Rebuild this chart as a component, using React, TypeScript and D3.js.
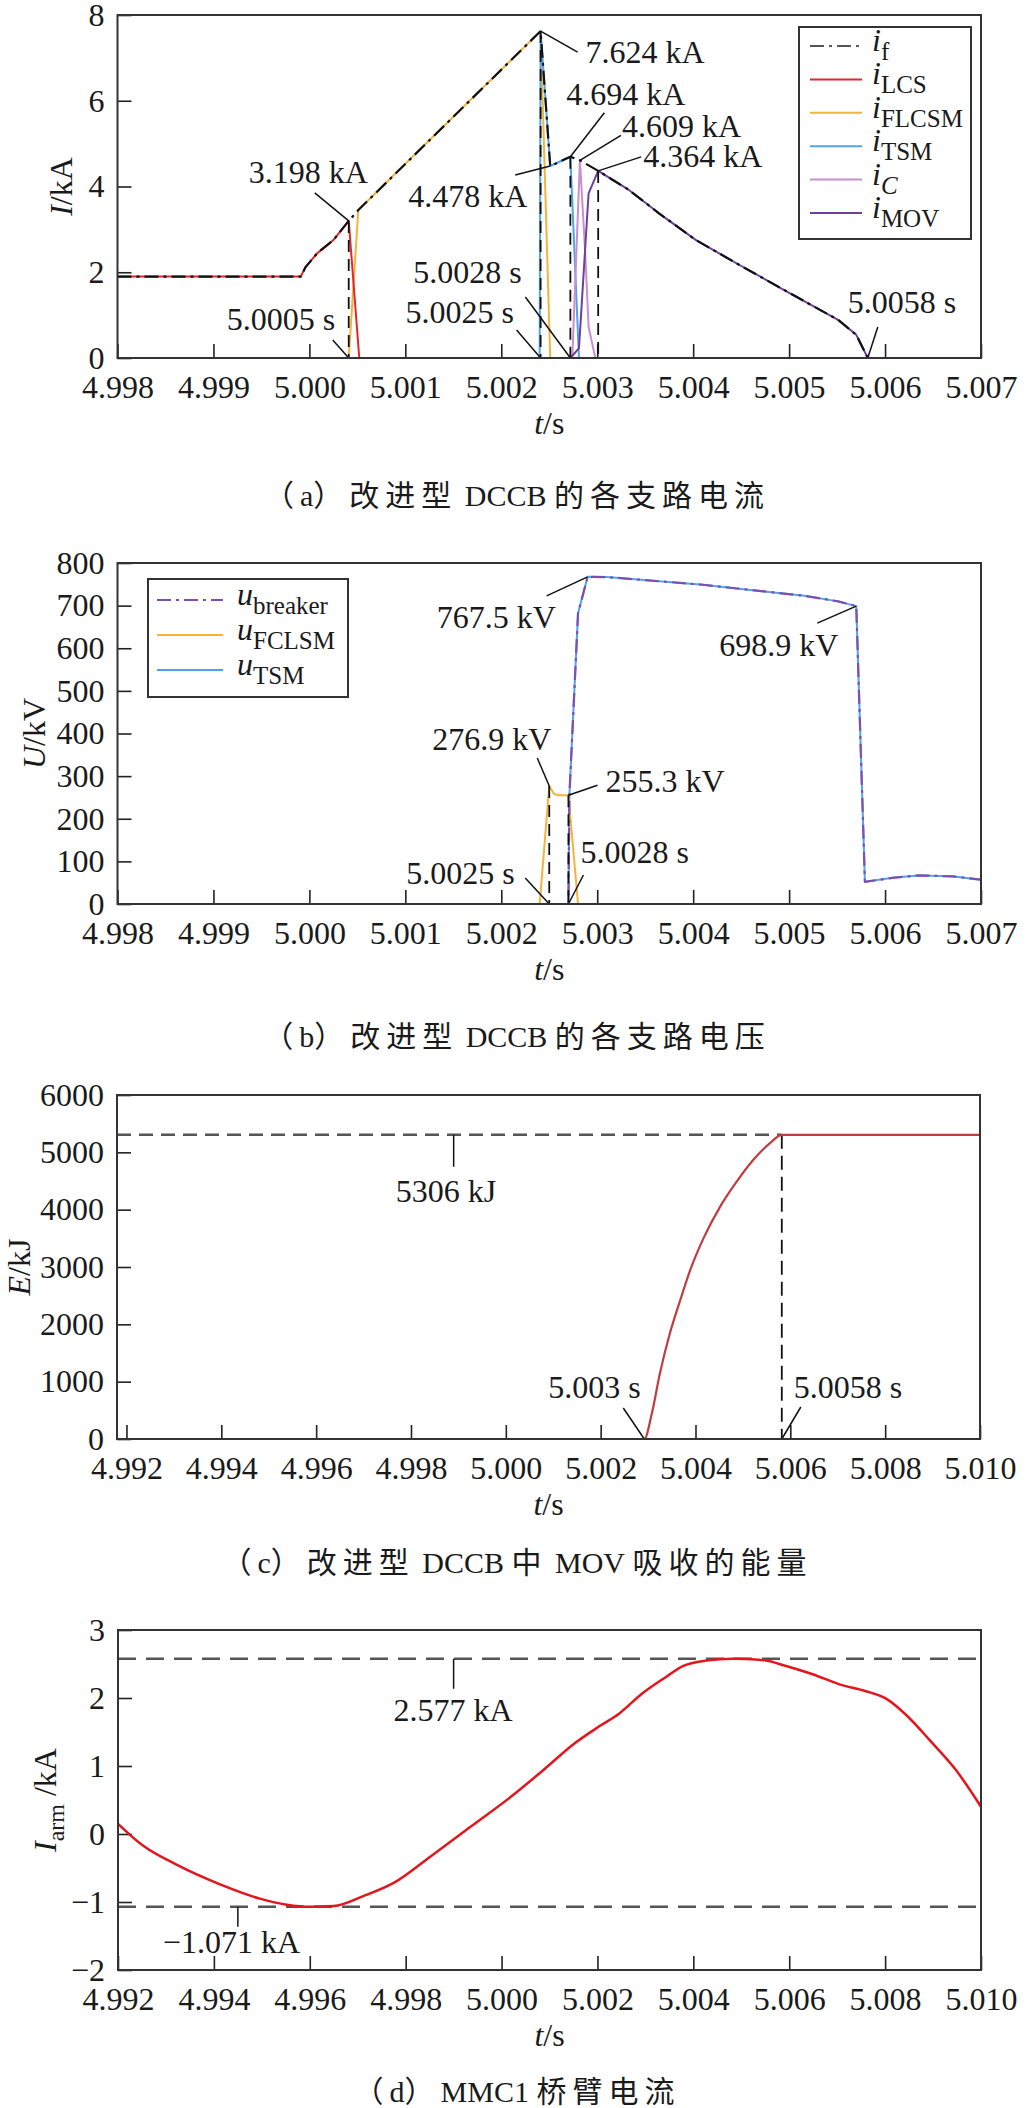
import React, { useEffect, useRef } from "react";
import * as d3 from "d3";

type Pt = [number, number];

// (a) branch currents of the improved DCCB, kA vs s
const iF: Pt[] = [
  [4.998, 1.9], [4.99991, 1.9], [4.99996, 2.12], [5.00008, 2.44], [5.00025, 2.75],
  [5.00041, 3.198], [5.00051, 3.45], [5.00241, 7.624], [5.00251, 4.478], [5.00272, 4.694],
  [5.00282, 4.609], [5.00301, 4.364], [5.00333, 3.92], [5.00364, 3.38], [5.00403, 2.75],
  [5.00445, 2.21], [5.00501, 1.51], [5.00551, 0.89], [5.0057, 0.54], [5.00582, 0], [5.007, 0],
];
const iLCS: Pt[] = [
  [4.998, 1.9], [4.99991, 1.9], [4.99996, 2.12], [5.00008, 2.44], [5.00025, 2.75],
  [5.00041, 3.198], [5.00052, 0], [5.007, 0],
];
const iFLCSM: Pt[] = [
  [4.998, 0], [5.00041, 0], [5.00051, 3.45], [5.00241, 7.624], [5.00251, 0], [5.007, 0],
];
const iTSM: Pt[] = [
  [4.998, 0], [5.0024, 0], [5.00241, 7.624], [5.00251, 4.478], [5.00272, 4.694],
  [5.00281, 0], [5.007, 0],
];
const iC: Pt[] = [
  [4.998, 0], [5.00274, 0], [5.00282, 4.609], [5.002875, 2.45], [5.00291, 0.73],
  [5.00298, 0], [5.007, 0],
];
const iMOV: Pt[] = [
  [4.998, 0], [5.00272, 0], [5.00281, 0.23], [5.00291, 3.84], [5.00301, 4.364],
  [5.00333, 3.92], [5.00364, 3.38], [5.00403, 2.75], [5.00445, 2.21], [5.00501, 1.51],
  [5.00551, 0.89], [5.0057, 0.54], [5.00582, 0], [5.007, 0],
];

// (b) branch voltages, kV
const uBreaker: Pt[] = [
  [4.998, 0], [5.0027, 0], [5.00271, 255.3], [5.0028, 682], [5.0029, 767.5], [5.0031, 767],
  [5.0041, 749], [5.00516, 723], [5.00551, 710], [5.0057, 698.9], [5.00579, 52],
  [5.0061, 62], [5.00635, 67], [5.0067, 65], [5.007, 57],
];
const uTSM: Pt[] = uBreaker.map((d) => [d[0], d[1]] as Pt);
const uFCLSM: Pt[] = [
  [4.998, 0], [5.0024, 0], [5.0025, 276.9], [5.00255, 258], [5.0026, 255.3],
  [5.0027, 255.3], [5.0028, 0], [5.007, 0],
];

// (c) energy absorbed by MOV, kJ
const energy: Pt[] = [
  [4.9918, 0], [5.00292, 0], [5.00308, 448], [5.00325, 1147], [5.00346, 1845],
  [5.00368, 2426], [5.00389, 2949], [5.00417, 3503], [5.00452, 4054], [5.00487, 4490],
  [5.00522, 4869], [5.00557, 5160], [5.00582, 5306], [5.01, 5306],
];

// (d) MMC1 arm current, kA
const armCurrent: Pt[] = [
  [4.992, 0.15], [4.99252, -0.17], [4.99322, -0.45], [4.99413, -0.74], [4.99496, -0.95],
  [4.99552, -1.04], [4.99601, -1.071], [4.9965, -1.06], [4.99713, -0.91], [4.99775, -0.72],
  [4.99852, -0.33], [4.99936, 0.11], [5.0002, 0.55], [5.00092, 0.97], [5.00148, 1.31],
  [5.00203, 1.58], [5.00245, 1.77], [5.00294, 2.07], [5.00343, 2.31], [5.00378, 2.47],
  [5.00427, 2.55], [5.00482, 2.577], [5.0051, 2.575], [5.00552, 2.55], [5.00593, 2.47],
  [5.00649, 2.35], [5.00705, 2.2], [5.0076, 2.1], [5.00802, 1.99], [5.00844, 1.75],
  [5.00893, 1.38], [5.00949, 0.93], [5.01, 0.4],
];

const xTicksAB = [4.998, 4.999, 5.0, 5.001, 5.002, 5.003, 5.004, 5.005, 5.006, 5.007];
const yTicksA = [0, 2, 4, 6, 8];
const yTicksB = [0, 100, 200, 300, 400, 500, 600, 700, 800];
const xTicksCD = [4.992, 4.994, 4.996, 4.998, 5.0, 5.002, 5.004, 5.006, 5.008, 5.01];
const yTicksC = [0, 1000, 2000, 3000, 4000, 5000, 6000];
const yTicksD = [-2, -1, 0, 1, 2, 3];

// reference (dashed) markers
const dropsA: Pt[] = [[5.00041, 3.198], [5.00241, 7.624], [5.00272, 4.694], [5.00301, 4.364]];
const dropsB: Pt[] = [[5.0025, 276.9], [5.0027, 255.3]];
const energyEnd: Pt = [5.00582, 5306];
const armLimits = [2.577, -1.071];

const FONT = '"Liberation Serif", "Times New Roman", Tinos, "DejaVu Serif", "Noto Sans CJK SC", serif';
const INK = "#1a1a1a";

type Note = { t: number; v: number; label: string; tx: number; ty: number; lx: number; ly: number };

const notesA: Note[] = [
  { t: 5.00041, v: 3.198, label: "3.198 kA", tx: -100, ty: -38, lx: -34, ly: -28 },
  { t: 5.00041, v: 0, label: "5.0005 s", tx: -122, ty: -28, lx: -16, ly: -18 },
  { t: 5.00241, v: 7.624, label: "7.624 kA", tx: 45, ty: 32, lx: 37, ly: 21 },
  { t: 5.00251, v: 4.478, label: "4.478 kA", tx: -142, ty: 41, lx: -35, ly: 9 },
  { t: 5.00272, v: 4.694, label: "4.694 kA", tx: -4, ty: -52, lx: 34, ly: -44 },
  { t: 5.00282, v: 4.609, label: "4.609 kA", tx: 42, ty: -23, lx: 41, ly: -25 },
  { t: 5.00301, v: 4.364, label: "4.364 kA", tx: 45, ty: -4, lx: 43, ly: -14 },
  { t: 5.00272, v: 0, label: "5.0028 s", tx: -157, ty: -75, lx: -45, ly: -61 },
  { t: 5.00241, v: 0, label: "5.0025 s", tx: -135, ty: -35, lx: -24, ly: -28 },
  { t: 5.00582, v: 0, label: "5.0058 s", tx: -20, ty: -45, lx: 10, ly: -31 },
];
const notesB: Note[] = [
  { t: 5.0029, v: 767.5, label: "767.5 kV", tx: -151, ty: 51, lx: -41, ly: 19 },
  { t: 5.0057, v: 698.9, label: "698.9 kV", tx: -137, ty: 50, lx: -39, ly: 17 },
  { t: 5.0025, v: 276.9, label: "276.9 kV", tx: -117, ty: -36, lx: -12, ly: -28 },
  { t: 5.0027, v: 255.3, label: "255.3 kV", tx: 37, ty: -3, lx: 29, ly: -10 },
  { t: 5.0027, v: 0, label: "5.0028 s", tx: 12, ty: -41, lx: 15, ly: -29 },
  { t: 5.0025, v: 0, label: "5.0025 s", tx: -143, ty: -20, lx: -24, ly: -26 },
];
const notesC: Note[] = [
  { t: 4.9989, v: 5306, label: "5306 kJ", tx: -58, ty: 67, lx: 0, ly: 32 },
  { t: 5.00292, v: 0, label: "5.003 s", tx: -96, ty: -41, lx: -21, ly: -31 },
  { t: 5.00582, v: 0, label: "5.0058 s", tx: 12, ty: -41, lx: 19, ly: -32 },
];
const notesD: Note[] = [
  { t: 4.999, v: 2.577, label: "2.577 kA", tx: -60, ty: 62, lx: 0, ly: 30 },
  { t: 4.9945, v: -1.071, label: "\u22121.071 kA", tx: -75, ty: 46, lx: 0, ly: 20 },
];

type Sel = d3.Selection<any, unknown, null, undefined>;
type Lin = d3.ScaleLinear<number, number>;

const frame = (svg: Sel, x: Lin, y: Lin, xTicks: number[], yTicks: number[]) => {
  const [x0, x1] = x.range();
  const [y0, y1] = y.range();
  const g = svg.append("g");
  g.append("g")
    .attr("transform", `translate(0,${y0})`)
    .call(d3.axisBottom(x).tickValues(xTicks).tickSize(-14).tickPadding(17).tickFormat(d3.format(".3f")))
    .call((a) => a.select(".domain").remove());
  g.append("g")
    .attr("transform", `translate(${x0},0)`)
    .call(d3.axisLeft(y).tickValues(yTicks).tickSize(-14).tickPadding(13).tickFormat(d3.format("d")))
    .call((a) => a.select(".domain").remove());
  g.selectAll("g").attr("font-family", null).attr("font-size", null);
  g.selectAll(".tick text").attr("font-size", 32).style("font-family", FONT).attr("fill", INK);
  g.selectAll(".tick line").attr("stroke", "#222").attr("stroke-width", 1.6);
  return () =>
    svg.append("rect")
      .attr("x", x0).attr("y", y1).attr("width", x1 - x0).attr("height", y0 - y1)
      .attr("fill", "none").attr("stroke", "#333").attr("stroke-width", 2);
};

const curve = (g: Sel, data: Pt[], x: Lin, y: Lin, color: string, width: number, dash?: string, smooth = false) => {
  const line = d3.line<Pt>().x((d) => x(d[0])).y((d) => y(d[1]))
    .curve(smooth ? d3.curveMonotoneX : d3.curveLinear);
  g.append("path").datum(data).attr("d", line)
    .attr("fill", "none").attr("stroke", color).attr("stroke-width", width)
    .attr("stroke-linejoin", "round").attr("stroke-dasharray", dash ?? null);
};

const annotate = (g: Sel, x: Lin, y: Lin, notes: Note[]) => {
  notes.forEach((n) => {
    const px = x(n.t), py = y(n.v);
    g.append("line").attr("x1", px + n.lx).attr("y1", py + n.ly).attr("x2", px).attr("y2", py)
      .attr("stroke", "#111").attr("stroke-width", 1.5);
    g.append("text").attr("x", px + n.tx).attr("y", py + n.ty)
      .attr("font-size", 32).attr("fill", INK).text(n.label);
  });
};

const xTitle = (g: Sel, x: Lin, y: Lin) => {
  const [x0, x1] = x.range();
  const t = g.append("text").attr("x", (x0 + x1) / 2).attr("y", y.range()[0] + 76)
    .attr("text-anchor", "middle").attr("font-size", 32).attr("fill", INK);
  t.append("tspan").attr("font-style", "italic").text("t");
  t.append("tspan").text("/s");
};

const yTitle = (g: Sel, y: Lin, bx: number, sym: string, unit: string, sub?: string) => {
  const [y0, y1] = y.range();
  const t = g.append("text").attr("transform", `translate(${bx},${(y0 + y1) / 2}) rotate(-90)`)
    .attr("text-anchor", "middle").attr("font-size", 32).attr("fill", INK);
  t.append("tspan").attr("font-style", "italic").text(sym);
  if (sub) {
    t.append("tspan").attr("font-size", 24).attr("dy", 8).text(sub);
    t.append("tspan").attr("dy", -8).text("\u00a0" + unit);
  } else t.append("tspan").text(unit);
};

// CJK runs are spread out as in the typeset figure; Latin runs are not
const caption = (g: Sel, baseline: number, text: string) => {
  const t = g.append("text").attr("x", 517).attr("y", baseline).attr("text-anchor", "middle")
    .attr("font-size", 30).attr("fill", INK);
  text.split(/([\u3000-\u9fff\uff00-\uffef]+)/).filter((s) => s.length).forEach((s) => {
    const cjk = /[\u3000-\u9fff\uff00-\uffef]/.test(s);
    t.append("tspan").attr("letter-spacing", cjk ? 6 : 0).text(s.replace(/ /g, "\u00a0"));
  });
};

type Entry = { sym: string; sub: string; subItalic?: boolean; color: string; dash?: string };

const legend = (g: Sel, box: [number, number, number, number], rowTop: number, step: number,
  lineX: [number, number], textX: number, entries: Entry[]) => {
  g.append("rect").attr("x", box[0]).attr("y", box[1]).attr("width", box[2]).attr("height", box[3])
    .attr("fill", "#fff").attr("stroke", "#333").attr("stroke-width", 2);
  entries.forEach((e, i) => {
    const ry = rowTop + i * step;
    g.append("line").attr("x1", lineX[0]).attr("x2", lineX[1]).attr("y1", ry).attr("y2", ry)
      .attr("stroke", e.color).attr("stroke-width", 2).attr("stroke-dasharray", e.dash ?? null);
    const t = g.append("text").attr("x", textX).attr("y", ry + 5).attr("font-size", 32).attr("fill", INK);
    t.append("tspan").attr("font-style", "italic").text(e.sym);
    t.append("tspan").attr("font-size", 25).attr("dy", 9)
      .attr("font-style", e.subItalic ? "italic" : "normal").text(e.sub);
  });
};

const C = {
  f: "#111", lcs: "#e4262c", flcsm: "#f2b53a", tsm: "#4fa3ef", c: "#c98fcf", mov: "#6f3f9e",
  brk: "#7e4fb0", energy: "#c23b3f", arm: "#e3161d", ref: "#555",
};
const DASHDOT = "14,5,3,5";

export default function App() {
  const svgRef = useRef<SVGSVGElement>(null);

  useEffect(() => {
    const svg = d3.select(svgRef.current) as unknown as Sel;
    svg.selectAll("*").remove();

    // ---- (a) ----
    {
      const x = d3.scaleLinear().domain([4.998, 5.007]).range([117.5, 981]);
      const y = d3.scaleLinear().domain([0, 8]).range([358, 15]);
      const box = frame(svg, x, y, xTicksAB, yTicksA);
      const g = svg.append("g");
      curve(g, iFLCSM, x, y, C.flcsm, 2);
      curve(g, iTSM, x, y, C.tsm, 2);
      curve(g, iC, x, y, C.c, 2);
      curve(g, iMOV, x, y, C.mov, 2);
      curve(g, iLCS, x, y, C.lcs, 2);
      curve(g, iF, x, y, C.f, 2.2, DASHDOT);
      dropsA.forEach(([t, v]) =>
        g.append("line").attr("x1", x(t)).attr("x2", x(t)).attr("y1", y(v)).attr("y2", y(0))
          .attr("stroke", "#111").attr("stroke-width", 1.8).attr("stroke-dasharray", "12,7"));
      box();
      annotate(g, x, y, notesA);
      legend(svg, [799, 27, 172, 212], 46, 33.4, [810, 862], 872, [
        { sym: "i", sub: "f", color: C.ref, dash: DASHDOT },
        { sym: "i", sub: "LCS", color: C.lcs },
        { sym: "i", sub: "FLCSM", color: C.flcsm },
        { sym: "i", sub: "TSM", color: C.tsm },
        { sym: "i", sub: "C", subItalic: true, color: C.c },
        { sym: "i", sub: "MOV", color: C.mov },
      ]);
      xTitle(svg, x, y);
      yTitle(svg, y, 72, "I", "/kA");
      caption(svg, 506, "（a）改进型 DCCB 的各支路电流");
    }

    // ---- (b) ----
    {
      const x = d3.scaleLinear().domain([4.998, 5.007]).range([117.5, 981]);
      const y = d3.scaleLinear().domain([0, 800]).range([904, 563]);
      const box = frame(svg, x, y, xTicksAB, yTicksB);
      const g = svg.append("g");
      curve(g, uTSM, x, y, C.tsm, 2);
      curve(g, uFCLSM, x, y, C.flcsm, 2);
      curve(g, uBreaker, x, y, C.brk, 2.2, DASHDOT);
      dropsB.forEach(([t, v]) =>
        g.append("line").attr("x1", x(t)).attr("x2", x(t)).attr("y1", y(v)).attr("y2", y(0))
          .attr("stroke", "#111").attr("stroke-width", 1.8).attr("stroke-dasharray", "12,7"));
      box();
      annotate(g, x, y, notesB);
      legend(svg, [148, 579, 200, 118], 600, 35, [157, 223], 237, [
        { sym: "u", sub: "breaker", color: C.brk, dash: DASHDOT },
        { sym: "u", sub: "FCLSM", color: C.flcsm },
        { sym: "u", sub: "TSM", color: C.tsm },
      ]);
      xTitle(svg, x, y);
      yTitle(svg, y, 45, "U", "/kV");
      caption(svg, 1047, "（b）改进型 DCCB 的各支路电压");
    }

    // ---- (c) ----
    {
      const x = d3.scaleLinear().domain([4.9918, 5.01]).range([117, 980]);
      const y = d3.scaleLinear().domain([0, 6000]).range([1439, 1095]);
      const box = frame(svg, x, y, xTicksCD, yTicksC);
      const g = svg.append("g");
      g.append("line").attr("x1", x(x.domain()[0])).attr("x2", x(energyEnd[0]))
        .attr("y1", y(energyEnd[1])).attr("y2", y(energyEnd[1]))
        .attr("stroke", C.ref).attr("stroke-width", 2.5).attr("stroke-dasharray", "14,8");
      g.append("line").attr("x1", x(energyEnd[0])).attr("x2", x(energyEnd[0]))
        .attr("y1", y(energyEnd[1])).attr("y2", y(0))
        .attr("stroke", "#111").attr("stroke-width", 1.8).attr("stroke-dasharray", "14,7");
      curve(g, energy, x, y, C.energy, 2.2, undefined, true);
      box();
      annotate(g, x, y, notesC);
      xTitle(svg, x, y);
      yTitle(svg, y, 30, "E", "/kJ");
      caption(svg, 1573, "（c）改进型 DCCB 中 MOV 吸收的能量");
    }

    // ---- (d) ----
    {
      const x = d3.scaleLinear().domain([4.992, 5.01]).range([118, 981]);
      const y = d3.scaleLinear().domain([-2, 3]).range([1970, 1630]);
      const box = frame(svg, x, y, xTicksCD, yTicksD);
      const g = svg.append("g");
      armLimits.forEach((v) =>
        g.append("line").attr("x1", x.range()[0]).attr("x2", x.range()[1]).attr("y1", y(v)).attr("y2", y(v))
          .attr("stroke", C.ref).attr("stroke-width", 2.5).attr("stroke-dasharray", "18,10"));
      curve(g, armCurrent, x, y, C.arm, 2.5, undefined, true);
      box();
      annotate(g, x, y, notesD);
      xTitle(svg, x, y);
      yTitle(svg, y, 56, "I", "/kA", "arm");
      caption(svg, 2102, "（d）MMC1 桥臂电流");
    }
  }, []);

  return (
    <svg
      ref={svgRef}
      width={1029}
      height={2108}
      style={{ position: "absolute", left: 0, top: 0, background: "#fff", fontFamily: FONT }}
    />
  );
}
